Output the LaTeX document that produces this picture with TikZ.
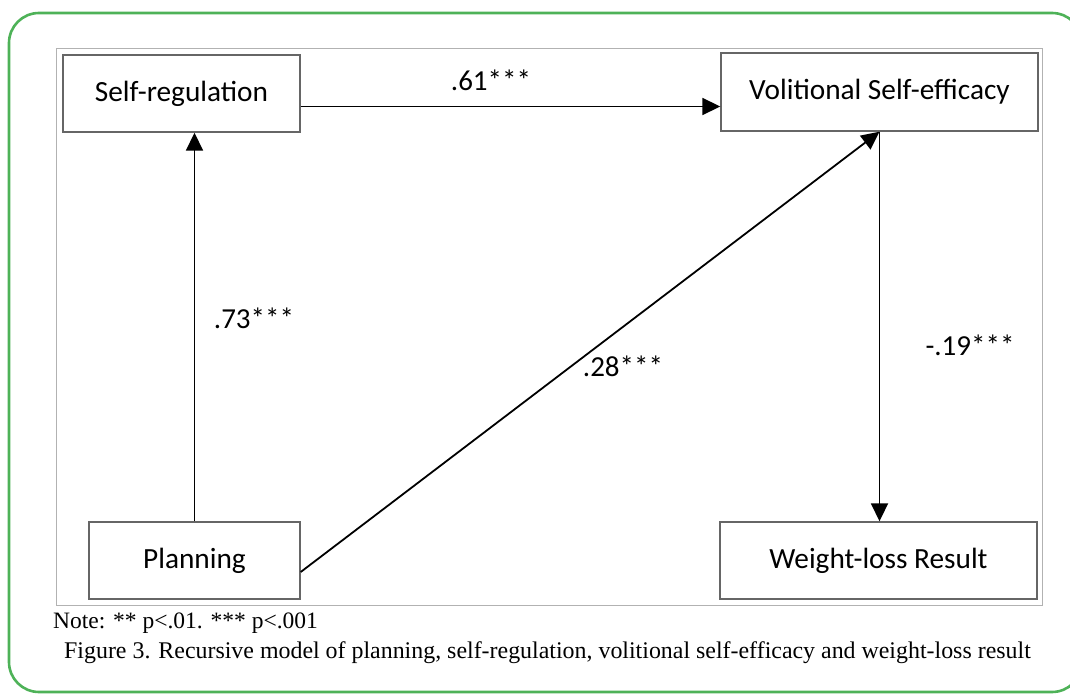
\documentclass[tikz,border=0pt]{standalone}
\usepackage{fontspec}
\setmainfont{Liberation Serif}
\newfontfamily\boxfont{Carlito}
\usetikzlibrary{arrows.meta}
\definecolor{framegreen}{RGB}{78,178,88}
\tikzset{
  modelbox/.style={draw=black!60, line width=1.4pt, fill=white, font=\boxfont\fontsize{29.3}{32}\selectfont, inner sep=0pt},
  arr/.style={draw=black, line width=1.8pt, -{Triangle[length=18pt,width=17pt]}},
  coef/.style={font=\boxfont\fontsize{29}{32}\selectfont, inner sep=0pt},
  note/.style={font=\fontsize{23.5}{26}\selectfont, inner sep=0pt, anchor=base west}
}
\begin{document}
\begin{tikzpicture}[x=1pt,y=-1pt]
\useasboundingbox (0,0) rectangle (1070,693);
\begin{scope}
\clip (0,0) rectangle (1070,693);
\draw[framegreen, line width=2.6pt, rounded corners=30pt] (9,13) rectangle (1082,692);
\end{scope}
\draw[black!30, line width=1pt] (56,49) rectangle (1042,605);

\node[modelbox, minimum width=237pt, minimum height=77pt] (sr) at (181.5,93.5) {Self-regulation};
\node[modelbox, minimum width=317pt, minimum height=78pt] (vse) at (879.5,92) {Volitional Self-efficacy};
\node[modelbox, minimum width=211pt, minimum height=77pt] (pl) at (194.5,560.5) {Planning};
\node[modelbox, minimum width=317pt, minimum height=77pt] (wl) at (878.5,560.5) {Weight-loss Result};

\draw[arr] ([yshift=-13pt]sr.east) -- ([yshift=-13pt]sr.east -| vse.west);
\draw[arr] (pl.north) -- (pl.north |- sr.south);
\draw[arr] ([yshift=-11.5pt]pl.east) -- (vse.south);
\draw[arr] (vse.south) -- (vse.south |- wl.north);

\node[coef] (c1) at (491,80) {.61***};
\node[coef] (c2) at (254,318) {.73***};
\node[coef] (c3) at (623,366) {.28***};
\node[coef] (c4) at (970,345) {-.19***};

\node[note] (nt) at (53,628) {Note: ** p<.01. *** p<.001};
\node[note, font=\fontsize{23.9}{26}\selectfont] (cap) at (64,658) {Figure 3. Recursive model of planning, self-regulation, volitional self-efficacy and weight-loss result};
\end{tikzpicture}
\end{document}
